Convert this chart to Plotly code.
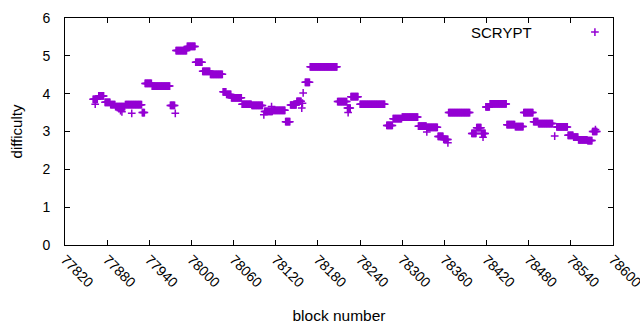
import plotly.graph_objects as go

# Runs of constant difficulty: first block, last block, difficulty
seg_start = [77860, 77868, 77877, 77885, 77892, 77906, 77930, 77934, 77944, 77970,
             77978, 77994, 78006, 78016, 78027, 78045, 78050, 78057, 78072, 78086,
             78104, 78116, 78134, 78141, 78150, 78162, 78169, 78208, 78222, 78227,
             78240, 78278, 78287, 78300, 78323, 78335, 78351, 78359, 78366, 78399,
             78406, 78413, 78419, 78425, 78449, 78461, 78473, 78487, 78494, 78520,
             78536, 78544, 78551, 78564, 78571]
seg_end = [77866, 77875, 77884, 77891, 77905, 77929, 77933, 77943, 77969, 77976,
           77993, 78005, 78015, 78026, 78044, 78049, 78056, 78071, 78085, 78101,
           78115, 78133, 78140, 78149, 78156, 78168, 78207, 78221, 78226, 78237,
           78275, 78286, 78299, 78322, 78334, 78350, 78358, 78365, 78396, 78405,
           78412, 78418, 78424, 78448, 78460, 78472, 78486, 78493, 78514, 78535,
           78543, 78550, 78563, 78570, 78577]
seg_diff = [3.85, 3.94, 3.77, 3.71, 3.66, 3.71, 3.50, 4.27, 4.20, 3.69,
            5.14, 5.25, 4.83, 4.59, 4.51, 4.05, 3.98, 3.89, 3.72, 3.69,
            3.53, 3.56, 3.26, 3.70, 3.80, 4.30, 4.71, 3.79, 3.62, 3.92,
            3.72, 3.16, 3.34, 3.38, 3.14, 3.11, 2.87, 2.79, 3.50, 2.95,
            3.10, 2.95, 3.65, 3.73, 3.18, 3.13, 3.50, 3.26, 3.21, 3.12,
            2.90, 2.85, 2.78, 2.76, 3.00]

# Isolated blocks off the runs
odd_block = [77863, 77899, 77901, 77915, 77977, 78103, 78114, 78157, 78158, 78159,
             78223, 78335, 78365, 78415, 78517, 78575]
odd_diff = [3.72, 3.55, 3.52, 3.48, 3.48, 3.44, 3.66, 3.62, 3.75, 4.02,
            3.50, 2.99, 2.70, 2.85, 2.88, 3.05]

x_ticks = [77820, 77880, 77940, 78000, 78060, 78120, 78180, 78240, 78300,
           78360, 78420, 78480, 78540, 78600]
y_ticks = [0, 1, 2, 3, 4, 5, 6]

blocks, diffs = [], []
for s, e, d in zip(seg_start, seg_end, seg_diff):
    for b in range(s, e + 1):
        blocks.append(b)
        diffs.append(d)
blocks += odd_block
diffs += odd_diff

COLOR = "#9400D3"
FONT = "Liberation Sans, Arial, sans-serif"

fig = go.Figure()
fig.add_trace(go.Scatter(
    x=blocks, y=diffs, mode="markers", showlegend=False,
    marker=dict(symbol="cross-thin", size=5.5, color=COLOR,
                line=dict(color=COLOR, width=1.5)),
))
# legend key (gnuplot style: text then sample)
fig.add_trace(go.Scatter(
    x=[0.967], y=[0.938], xaxis="x2", yaxis="y2", mode="markers", showlegend=False,
    marker=dict(symbol="cross-thin", size=5.5, color=COLOR,
                line=dict(color=COLOR, width=1.5)),
))
fig.add_annotation(text="SCRYPT", xref="paper", yref="paper", x=0.855, y=0.938,
                   xanchor="right", yanchor="middle", showarrow=False,
                   font=dict(family=FONT, size=15, color="black"))

axis_common = dict(showline=True, linecolor="black", linewidth=1, mirror="ticks",
                   ticks="inside", ticklen=5, tickcolor="black", showgrid=False,
                   zeroline=False, automargin=False,
                   tickfont=dict(family=FONT, size=14, color="black"))

fig.update_layout(
    width=640, height=330, margin=dict(l=65, r=27, t=18, b=85),
    paper_bgcolor="white", plot_bgcolor="white",
    font=dict(family=FONT, size=15, color="black"),
    xaxis=dict(range=[x_ticks[0], x_ticks[-1]], tickvals=x_ticks,
               ticktext=[str(v) for v in x_ticks], tickangle=45,
               ticklabeloverflow="allow",
               title=dict(text="block number", standoff=20,
                          font=dict(family=FONT, size=15.5)),
               **axis_common),
    yaxis=dict(range=[y_ticks[0], y_ticks[-1]], tickvals=y_ticks,
               ticklabelstandoff=11,
               title=dict(text="difficulty", standoff=16,
                          font=dict(family=FONT, size=15)),
               **axis_common),
    xaxis2=dict(range=[0, 1], overlaying="x", visible=False),
    yaxis2=dict(range=[0, 1], overlaying="y", visible=False),
)

fig.write_html("out.html", config={"displayModeBar": False},
               post_script="document.body.style.margin='0px';")
